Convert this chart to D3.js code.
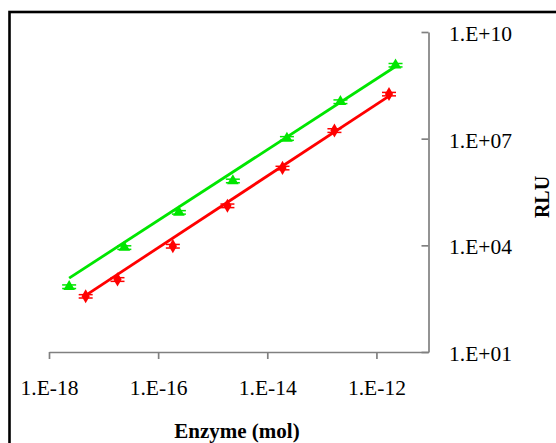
<!DOCTYPE html>
<html>
<head>
<meta charset="utf-8">
<script src="https://cdn.jsdelivr.net/npm/d3@7"></script>
<style>
  html, body { margin: 0; padding: 0; background: #fff; }
  svg { display: block; }
  text { font-family: "Liberation Serif", "Times New Roman", serif; fill: #000; }
</style>
</head>
<body>
<svg id="chart" width="556" height="443"></svg>
<script>
// Enzyme amount (mol) and luminescence (RLU) for the two assays
const greenEnzyme = [2.34e-18, 2.4e-17, 2.4e-16, 2.34e-15, 2.29e-14, 2.19e-13, 2.24e-12];
const greenRLU    = [690, 8700, 85000, 650000, 1.02e7, 1.1e8, 1.17e9];
const greenSD     = [80, 1000, 9500, 75000, 1.2e6, 1.3e7, 1.3e8];

const redEnzyme = [4.7e-18, 1.8e-17, 1.86e-16, 1.86e-15, 1.9e-14, 1.7e-13, 1.7e-12];
const redRLU    = [370, 1100, 9500, 1.3e5, 1.5e6, 1.7e7, 1.8e8];
const redSD     = [40, 130, 1100, 15000, 1.7e5, 2e6, 2e7];

// Power trendlines: log10(RLU) = intercept + slope * log10(mol)
const greenTrend = { intercept: 20.62, slope: 0.995 };
const redTrend   = { intercept: 20.06, slope: 1.008 };

const xTicks = [1e-18, 1e-16, 1e-14, 1e-12];
const yTicks = [1e1, 1e4, 1e7, 1e10];

const xLabel = "Enzyme (mol)";
const yLabel = "RLU";

const svg = d3.select("#chart");

// outer frame
svg.append("rect")
  .attr("x", 9.5).attr("y", 12)
  .attr("width", 600).attr("height", 500)
  .attr("fill", "none").attr("stroke", "#000").attr("stroke-width", 2.6);

const x = d3.scaleLog().domain([1e-18, 9e-12]).range([49, 428.5]);
const y = d3.scaleLog().domain([1e1, 1e10]).range([352, 32]);

const fmt = v => {
  const e = Math.round(Math.log10(v));
  return "1.E" + (e < 0 ? "-" : "+") + String(Math.abs(e)).padStart(2, "0");
};

const axisColor = "#808080";

// x axis (bottom)
const gx = svg.append("g").attr("transform", "translate(0,352)")
  .call(d3.axisBottom(x).tickValues(xTicks).tickFormat(fmt).tickSizeOuter(0).tickSizeInner(7).tickPadding(21));
gx.select(".domain").attr("stroke", axisColor).attr("stroke-width", 1.7);
gx.selectAll(".tick line").attr("stroke", axisColor).attr("stroke-width", 1.7);
gx.selectAll(".tick text")
  .attr("font-family", "Liberation Serif").attr("font-size", 21.5).attr("fill", "#000");

// y axis (right side, ticks pointing into the plot)
const gy = svg.append("g").attr("transform", "translate(428.5,0)")
  .call(d3.axisLeft(y).tickValues(yTicks).tickFormat(fmt).tickSizeOuter(0).tickSizeInner(7));
gy.select(".domain").attr("stroke", axisColor).attr("stroke-width", 1.7);
gy.selectAll(".tick line").attr("stroke", axisColor).attr("stroke-width", 1.7);
gy.selectAll(".tick text")
  .attr("x", 20.5).attr("dy", "0.4em").attr("text-anchor", "start")
  .attr("font-family", "Liberation Serif").attr("font-size", 21.5).attr("fill", "#000");

// axis titles
svg.append("text")
  .attr("x", 237).attr("y", 438)
  .attr("text-anchor", "middle")
  .attr("font-size", 21).attr("font-weight", "bold")
  .text(xLabel);

svg.append("text")
  .attr("transform", "translate(549,197) rotate(-90)")
  .attr("text-anchor", "middle")
  .attr("font-size", 20).attr("font-weight", "bold")
  .text(yLabel);

function drawSeries(xs, ys, sds, trend, color, symbolType) {
  const g = svg.append("g");
  const pts = xs.map((v, i) => ({ x: v, y: ys[i], sd: sds[i] }));

  // trendline over the series' x range
  const xr = d3.extent(xs);
  const line = d3.line().x(d => x(d)).y(d => y(Math.pow(10, trend.intercept + trend.slope * Math.log10(d))));
  g.append("path")
    .datum(xr)
    .attr("d", line)
    .attr("fill", "none").attr("stroke", color).attr("stroke-width", 2.8);

  // error bars
  const cap = 7;
  const eb = g.selectAll(".eb").data(pts).enter().append("g").attr("class", "eb");
  eb.append("line")
    .attr("x1", d => x(d.x)).attr("x2", d => x(d.x))
    .attr("y1", d => y(d.y + d.sd)).attr("y2", d => y(d.y - d.sd))
    .attr("stroke", color).attr("stroke-width", 1.5);
  eb.append("line")
    .attr("x1", d => x(d.x) - cap).attr("x2", d => x(d.x) + cap)
    .attr("y1", d => y(d.y + d.sd)).attr("y2", d => y(d.y + d.sd))
    .attr("stroke", color).attr("stroke-width", 1.5);
  eb.append("line")
    .attr("x1", d => x(d.x) - cap).attr("x2", d => x(d.x) + cap)
    .attr("y1", d => y(d.y - d.sd)).attr("y2", d => y(d.y - d.sd))
    .attr("stroke", color).attr("stroke-width", 1.5);

  // markers
  g.selectAll(".mk").data(pts).enter().append("path")
    .attr("class", "mk")
    .attr("transform", d => `translate(${x(d.x)},${y(d.y)})`)
    .attr("d", d3.symbol().type(symbolType).size(58))
    .attr("fill", color);
}

drawSeries(redEnzyme, redRLU, redSD, redTrend, "#ff0000", d3.symbolDiamond);
drawSeries(greenEnzyme, greenRLU, greenSD, greenTrend, "#00e600", d3.symbolTriangle);
</script>
</body>
</html>
